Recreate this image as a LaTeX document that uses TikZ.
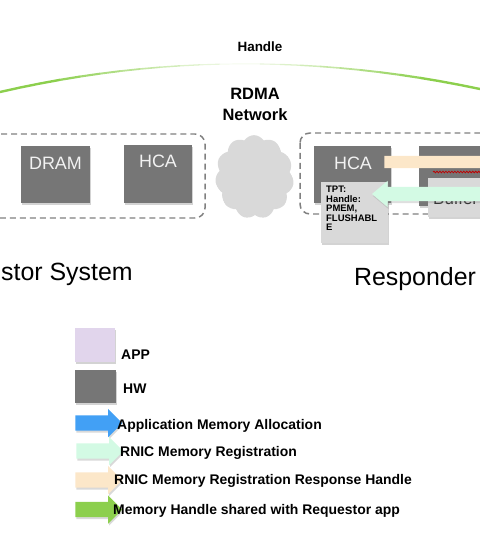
\documentclass[tikz,border=0pt]{standalone}
\usepackage{fontspec}
\setmainfont{Liberation Sans}
\usetikzlibrary{shapes,shapes.arrows,shadows,decorations.pathmorphing}

\definecolor{hwgray}{HTML}{767676}
\definecolor{lightbox}{HTML}{D9D9D9}
\definecolor{dashgray}{HTML}{808080}
\definecolor{appviolet}{HTML}{E1D5EC}
\definecolor{allocblue}{HTML}{42A0F5}
\definecolor{regmint}{HTML}{D3FAE4}
\definecolor{resppeach}{HTML}{FCE7C9}
\definecolor{handlegreen}{HTML}{8CCF4D}

\begin{document}
\begin{tikzpicture}[x=1bp, y=-1bp,
    hwbox/.style={fill=hwgray, draw=none, inner sep=0pt,
        drop shadow={opacity=0.35, shadow xshift=1pt, shadow yshift=-2pt}},
    hwtext/.style={text=white!95!black, font=\fontsize{18}{20}\selectfont, inner sep=0pt},
    sysbox/.style={draw=dashgray, line width=1.5pt, dash pattern=on 6pt off 4pt, rounded corners=10},
    systext/.style={font=\fontsize{25}{27}\selectfont, inner sep=0pt},
    legtext/.style={anchor=west, font=\bfseries\fontsize{14}{16}\selectfont, inner sep=0pt},
    legarrow/.style={single arrow, fill=#1, draw=none, inner xsep=0pt, inner ysep=7.5pt,
        minimum height=47, minimum width=28, single arrow head extend=6.5,
        drop shadow={opacity=0.3, shadow xshift=1pt, shadow yshift=-2pt}}
]
    \useasboundingbox (0,0) rectangle (480,554);
    \clip (0,0) rectangle (480,554);

    % handle shared back to the requestor (fades out near the top)
    \coordinate (ArcL) at (0,92);
    \coordinate (ArcR) at (480,89);
    \path (ArcL) .. controls (160,55) and (320,55) .. (ArcR)
        \foreach \i in {0,...,24}{ coordinate[pos=\i/24] (arc\i) };
    \foreach \i in {1,...,24}{%
        \pgfmathtruncatemacro{\j}{\i-1}
        \pgfmathtruncatemacro{\p}{min(100,5+100*abs(\i-12.5)/10)}
        \pgfmathsetmacro{\w}{0.8+1.6*\p/100}
        \draw [handlegreen!\p!white, line width=\w pt] (arc\j) -- (arc\i);
    }
    \node [font=\bfseries\fontsize{13.5}{15}\selectfont] (handle) at (260,47) {Handle};

    % network
    \node [font=\bfseries\fontsize{16.5}{21}\selectfont, align=center] (net) at (255,104.5) {RDMA\\Network};
    \node [cloud, cloud puffs=11, cloud puff arc=115, aspect=0.95, fill=lightbox, draw=none,
        minimum width=78, minimum height=82, inner sep=0pt,
        drop shadow={opacity=0.3, shadow xshift=1pt, shadow yshift=-2pt}] (cloud) at (254,176) {};

    % requestor system
    \draw [sysbox] (-20,134) rectangle (205,218);
    \node [hwbox, minimum width=69, minimum height=57] (dram) at (55.5,174.5) {};
    \node [hwtext] (dramtxt) at (55.5,163) {DRAM};
    \node [hwbox, minimum width=68, minimum height=58] (hcaL) at (158,174) {};
    \node [hwtext] (hcaLtxt) at (158,161) {HCA};
    \node [systext, anchor=west] (reqtxt) at (1,274) {stor System};

    % responder system
    \draw [sysbox] (300,133) rectangle (520,214);
    \node [hwbox, minimum width=77, minimum height=57] (hcaR) at (352.5,174.5) {};
    \node [hwtext] (hcaRtxt) at (353,163) {HCA};
    \node [hwbox, anchor=north west, minimum width=80, minimum height=60] (mem) at (419,146) {};
    \node [hwbox, fill=lightbox, anchor=north west, minimum width=70, minimum height=39] (buf) at (428,178) {};
    \node [font=\fontsize{17}{19}\selectfont, text=black!80, anchor=base west, inner sep=0pt] (buftxt) at (433,205) {Buffer};
    \draw [red!75!black, line width=0.8pt, decorate,
        decoration={snake, amplitude=0.8pt, segment length=3pt}] (433,172) -- (482,172);
    \node [single arrow, fill=resppeach, draw=none, inner xsep=0pt, inner ysep=6pt, minimum height=150,
        minimum width=24, single arrow head extend=6] (resp) at (456,162) {};
    \node [fill=lightbox, draw=none, anchor=north west, minimum width=67, minimum height=61, inner sep=0pt,
        drop shadow={opacity=0.35, shadow xshift=1pt, shadow yshift=-2pt}] (tpt) at (321,182) {};
    \node [font=\bfseries\fontsize{9.5}{9.6}\selectfont, align=left, anchor=north west, inner sep=0pt]
        (tpttxt) at (326,186) {TPT:\\Handle:\\PMEM,\\FLUSHABL\\E};
    \node [single arrow, shape border rotate=180, fill=regmint, draw=none, inner xsep=0pt, inner ysep=7pt,
        minimum height=130, minimum width=26, single arrow head extend=6, single arrow tip angle=80,
        drop shadow={opacity=0.25, shadow xshift=1pt, shadow yshift=-2pt}] (reg) at (441,194) {};
    \node [systext] (resptxt) at (415,279) {Responder};

    % legend
    \node [hwbox, fill=appviolet, minimum width=40, minimum height=34] (legapp) at (95,345) {};
    \node [legtext] (legapptxt) at (121,355) {APP};
    \node [hwbox, minimum width=41, minimum height=33] (leghw) at (95.5,386.5) {};
    \node [legtext] (leghwtxt) at (123,389) {HW};
    \node [legarrow=allocblue] (legalloc) at (95,423) {};
    \node [legtext] (legalloctxt) at (117,426) {Application Memory Allocation};
    \node [legarrow=regmint] (legreg) at (96,451) {};
    \node [legtext] (legregtxt) at (120,453) {RNIC Memory Registration};
    \node [legarrow=resppeach] (legresp) at (95,480) {};
    \node [legtext] (legresptxt) at (114,481) {RNIC Memory Registration Response Handle};
    \node [legarrow=handlegreen] (leghandle) at (95,509.5) {};
    \node [legtext] (leghandletxt) at (113,511) {Memory Handle shared with Requestor app};
\end{tikzpicture}
\end{document}
